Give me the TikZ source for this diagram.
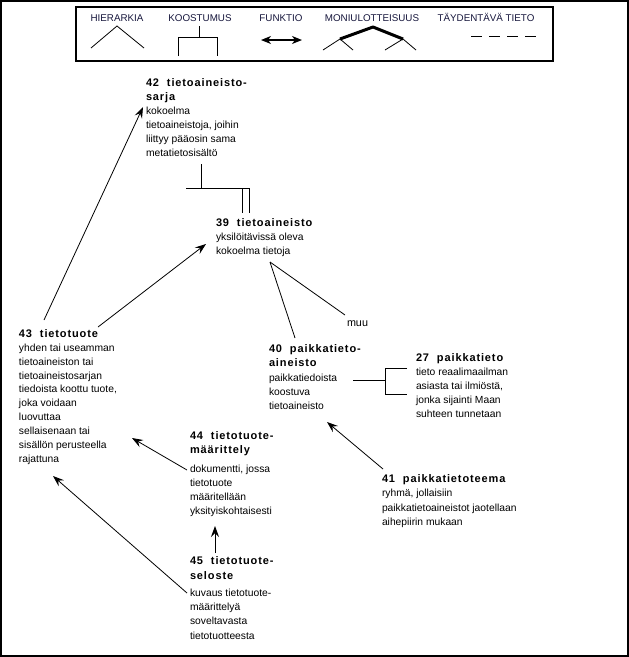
\documentclass[tikz,border=0pt]{standalone}
\usepackage{fontspec}
\setmainfont{Liberation Sans}
\newfontfamily\titlefont{Liberation Sans}[LetterSpace=8]
\usetikzlibrary{arrows.meta}
\definecolor{legendtext}{RGB}{22,22,60}
\newcommand\Tl[1]{\hbox{\titlefont\bfseries\fontsize{11}{14}\selectfont #1}}
\newcommand\Bl[1]{\hbox{\fontsize{10.3}{14}\selectfont #1}}
\newcommand\concept[2][14pt]{\vtop{\baselineskip=#1\lineskiplimit=-50pt\lineskip=0pt #2}}
\begin{document}
\begin{tikzpicture}[x=1pt,y=-1pt,
  concept/.style={anchor=base west,inner sep=0pt,outer sep=0pt},
  legendlabel/.style={anchor=base,inner sep=0pt,text=legendtext,font=\fontsize{9.8}{11}\selectfont},
  link/.style={line width=0.8pt},
  arrowlink/.style={line width=0.8pt,-{Stealth[length=11pt,width=8pt,inset=4pt]}},
  frame/.style={line width=2pt}]
\useasboundingbox (0,0) rectangle (629,657);
\draw[frame] (1,1) rectangle (628,656);
% legend
\draw[line width=1.5pt] (76,7) rectangle (553,61);
\node[legendlabel] (lh) at (117,21) {HIERARKIA};
\node[legendlabel] (lk) at (200,21) {KOOSTUMUS};
\node[legendlabel] (lf) at (281,21) {FUNKTIO};
\node[legendlabel] (lm) at (372,21) {MONIULOTTEISUUS};
\node[legendlabel] (lt) at (486,21) {TÄYDENTÄVÄ TIETO};
\draw[link] (91,48) -- (117,26) -- (144,48);
\draw[link] (199,26) -- (199,37);
\draw[link] (178,56) -- (178,37) -- (217,37) -- (217,56);
\draw[line width=1.3pt,{Stealth[length=10pt,width=8pt,inset=3pt]}-{Stealth[length=10pt,width=8pt,inset=3pt]}] (261,40) -- (302,40);
\draw[line width=3pt,line join=round] (340,39) -- (373,27) -- (403,39);
\draw[link] (323,50) -- (340,39) -- (353,50);
\draw[link] (385,50) -- (403,39) -- (416,50);
\draw[link,dash pattern=on 11pt off 7pt] (471,36) -- (536,36);
% concepts
\node[concept] (n42) at (146,86.5) {\concept{\Tl{42\ \ tietoaineisto-}\Tl{sarja}\Bl{kokoelma}\Bl{tietoaineistoja, joihin}\Bl{liittyy pääosin sama}\Bl{metatietosisältö}}};
\node[concept] (n39) at (216,226) {\concept{\Tl{39\ \ tietoaineisto}\Bl{yksilöitävissä oleva}\Bl{kokoelma tietoja}}};
\node[concept] (n43) at (19,337.3) {\concept[13.9pt]{\Tl{43\ \ tietotuote}\Bl{yhden tai useamman}\Bl{tietoaineiston tai}\Bl{tietoaineistosarjan}\Bl{tiedoista koottu tuote,}\Bl{joka voidaan}\Bl{luovuttaa}\Bl{sellaisenaan tai}\Bl{sisällön perusteella}\Bl{rajattuna}}};
\node[concept] (n40) at (269,352.5) {\concept[14.3pt]{\Tl{40\ \ paikkatieto-}\Tl{aineisto}\Bl{paikkatiedoista}\Bl{koostuva}\Bl{tietoaineisto}}};
\node[concept] (n27) at (416,361) {\concept[14.2pt]{\Tl{27\ \ paikkatieto}\Bl{tieto reaalimaailman}\Bl{asiasta tai ilmiöstä,}\Bl{jonka sijainti Maan}\Bl{suhteen tunnetaan}}};
\node[concept] (n44) at (190,439.5) {\concept{\Tl{44\ \ tietotuote-}\Tl{määrittely}\vskip5pt\Bl{dokumentti, jossa}\Bl{tietotuote}\Bl{määritellään}\Bl{yksityiskohtaisesti}}};
\node[concept] (n45) at (190,564) {\concept[14.2pt]{\Tl{45\ \ tietotuote-}\vskip1pt\Tl{seloste}\vskip3pt\Bl{kuvaus tietotuote-}\Bl{määrittelyä}\Bl{soveltavasta}\Bl{tietotuotteesta}}};
\node[concept] (n41) at (382,482) {\concept[14.5pt]{\Tl{41\ \ paikkatietoteema}\Bl{ryhmä, jollaisiin}\Bl{paikkatietoaineistot jaotellaan}\Bl{aihepiirin mukaan}}};
\node[concept] (muu) at (347,326) {\fontsize{10.8}{12}\selectfont muu};
% connector points
\coordinate (c43a) at (44,320);
\coordinate (c42t) at (143,107);
\coordinate (c43b) at (98,327);
\coordinate (c39t) at (206,244);
\coordinate (c42s) at (201,164);
\coordinate (c39s) at (270,262);
\coordinate (c40n) at (295,338);
\coordinate (cmuu) at (345,315);
\coordinate (c40e) at (353,380);
\coordinate (c44w) at (187,470);
\coordinate (c43t1) at (132,438);
\coordinate (c45w) at (187,593);
\coordinate (c43t2) at (53,476);
\coordinate (c45n) at (215,553);
\coordinate (c44s) at (215,526);
\coordinate (c41n) at (383,469);
\coordinate (c40s) at (327,422);
% connectors
\draw[arrowlink] (c43a) -- (c42t);
\draw[arrowlink] (c43b) -- (c39t);
\draw[link] (c42s) -- (201,188);
\draw[link] (186,188) -- (249,188);
\draw[link] (242,188) -- (242,213);
\draw[link] (249,188) -- (249,213);
\draw[link] (c39s) -- (cmuu);
\draw[link] (c39s) -- (c40n);
\draw[link] (c40e) -- (385,380);
\draw[link] (407,368) -- (385,368) -- (385,394) -- (407,394);
\draw[arrowlink] (c44w) -- (c43t1);
\draw[arrowlink] (c45w) -- (c43t2);
\draw[arrowlink] (c45n) -- (c44s);
\draw[arrowlink] (c41n) -- (c40s);
\end{tikzpicture}
\end{document}
